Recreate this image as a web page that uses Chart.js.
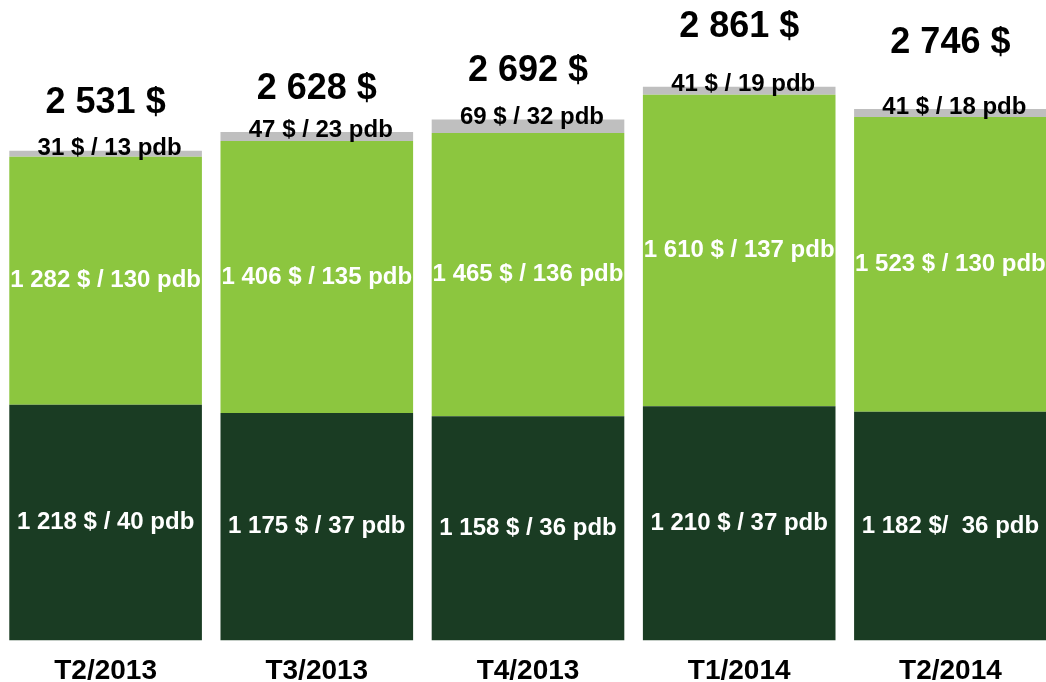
<!DOCTYPE html>
<html>
<head>
<meta charset="utf-8">
<script src="https://cdn.jsdelivr.net/npm/chart.js@4/dist/chart.umd.min.js"></script>
<style>
  html, body { margin: 0; padding: 0; background: #fff; overflow: hidden; }
  #wrap { width: 1046px; height: 682px; overflow: hidden; }
</style>
</head>
<body>
<div id="wrap"><canvas id="chart" width="1056" height="702"></canvas></div>
<script>
const quarters = ['T2/2013', 'T3/2013', 'T4/2013', 'T1/2014', 'T2/2014'];

const darkValues  = [1218, 1175, 1158, 1210, 1182];
const lightValues = [1282, 1406, 1465, 1610, 1523];
const greyValues  = [31, 47, 69, 41, 41];
const totals      = [2531, 2628, 2692, 2861, 2746];

const darkLabels  = ['1 218 $ / 40 pdb', '1 175 $ / 37 pdb', '1 158 $ / 36 pdb', '1 210 $ / 37 pdb', '1 182 $/  36 pdb'];
const lightLabels = ['1 282 $ / 130 pdb', '1 406 $ / 135 pdb', '1 465 $ / 136 pdb', '1 610 $ / 137 pdb', '1 523 $ / 130 pdb'];
const greyLabels  = ['31 $ / 13 pdb', '47 $ / 23 pdb', '69 $ / 32 pdb', '41 $ / 19 pdb', '41 $ / 18 pdb'];

const FONT = '"Liberation Sans", Arial, Helvetica, sans-serif';

const fmtThousands = v => String(v).replace(/\B(?=(\d{3})+(?!\d))/g, ' ');

const segmentLabels = {
  id: 'segmentLabels',
  afterDatasetsDraw(chart, args, opts) {
    const { ctx } = chart;
    ctx.save();
    ctx.textAlign = 'center';
    ctx.textBaseline = 'middle';
    chart.data.datasets.forEach((ds, di) => {
      const meta = chart.getDatasetMeta(di);
      meta.data.forEach((bar, i) => {
        const text = ds.segmentText[i];
        if (ds.labelPos === 'top') {
          ctx.font = 'bold 24px ' + FONT;
          ctx.fillStyle = '#000';
          ctx.fillText(text, bar.x + 4, bar.y - 2);
        } else {
          ctx.font = 'bold 24px ' + FONT;
          ctx.fillStyle = '#fff';
          ctx.fillText(text, bar.x, (bar.y + bar.base) / 2);
        }
      });
    });
    // totals above each stack
    const top = chart.getDatasetMeta(chart.data.datasets.length - 1);
    ctx.font = 'bold 36px ' + FONT;
    ctx.fillStyle = '#000';
    top.data.forEach((bar, i) => {
      ctx.fillText(fmtThousands(totals[i]) + ' $', bar.x, bar.y - opts.totalOffsets[i]);
    });
    ctx.restore();
  }
};

new Chart(document.getElementById('chart'), {
  type: 'bar',
  plugins: [segmentLabels],
  data: {
    labels: quarters,
    datasets: [
      { data: darkValues,  backgroundColor: '#1a3c23', segmentText: darkLabels },
      { data: lightValues, backgroundColor: '#8cc63f', segmentText: lightLabels },
      { data: greyValues,  backgroundColor: '#bfbfbf', segmentText: greyLabels, labelPos: 'top' }
    ]
  },
  options: {
    responsive: false,
    animation: false,
    layout: { padding: 0 },
    datasets: {
      bar: { barPercentage: 1, categoryPercentage: 0.912, borderWidth: 0 }
    },
    scales: {
      x: {
        stacked: true,
        grid: { display: false, drawTicks: false },
        border: { display: false },
        ticks: {
          color: '#000',
          padding: 14,
          font: { family: FONT, size: 28, weight: 'bold' }
        }
      },
      y: {
        stacked: true,
        display: false,
        min: 0,
        max: 3310
      }
    },
    plugins: {
      legend: { display: false },
      tooltip: { enabled: false },
      segmentLabels: { totalOffsets: [48, 43, 48, 60, 66] }
    }
  }
});
</script>
</body>
</html>
